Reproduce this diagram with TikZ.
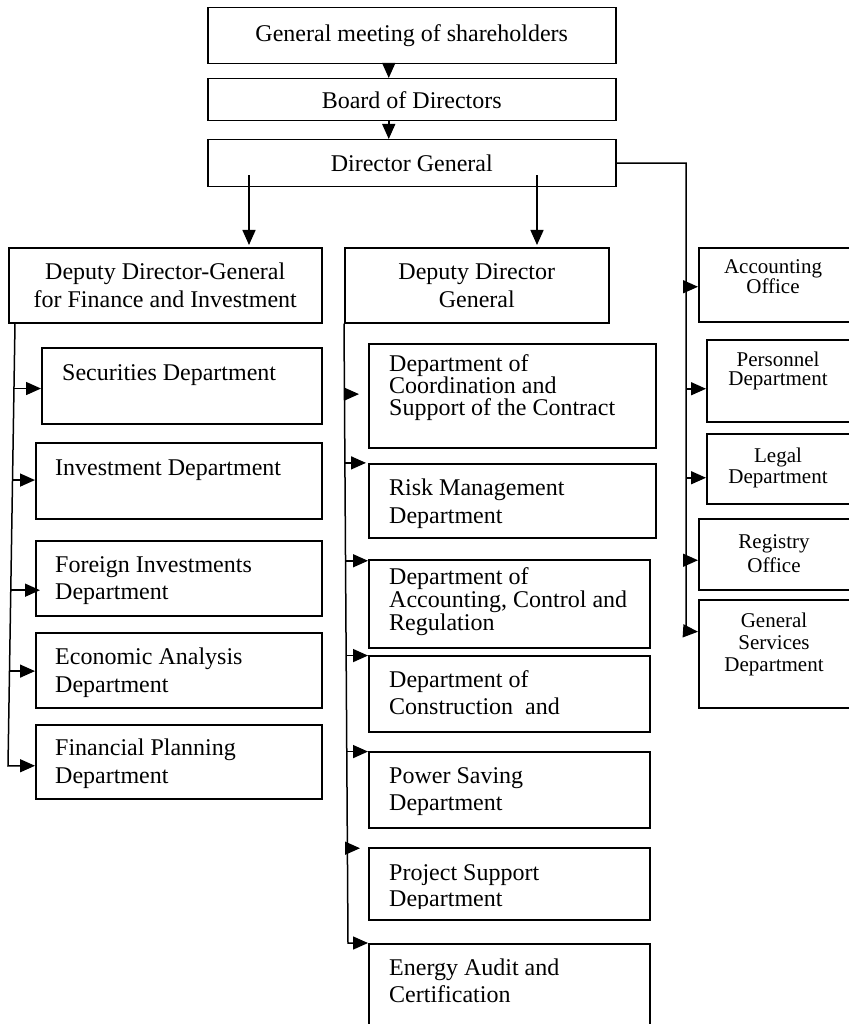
\documentclass[tikz,border=0pt]{standalone}
\usepackage{fontspec}
\setmainfont{Liberation Serif}
\usetikzlibrary{arrows.meta,calc}
\tikzset{
 box/.style={draw, line width=1.5pt, inner sep=0pt, anchor=north west},
 ctext/.style={font=\fontsize{24}{28}\selectfont, align=center},
 ltext/.style={font=\fontsize{24}{#1}\selectfont, align=left, inner sep=0pt, anchor=base west},
 ltext/.default=28,
 rtext/.style={font=\fontsize{21}{#1}\selectfont, align=center, inner sep=0pt, anchor=base},
 rtext/.default=21,
 arr/.style={line width=1.5pt, -{Triangle[length=15pt,width=13pt]}},
 ln/.style={line width=1.5pt},
}
\begin{document}
\begin{tikzpicture}[x=1pt,y=-1pt]
\useasboundingbox (0,0) rectangle (848,1024);

% top chain
\node[box, ctext, minimum width=408, minimum height=56] (gm) at (207,7) {General meeting of shareholders};
\node[box, ctext, minimum width=408, minimum height=42] (bd) at (207,78) {Board of Directors};
\node[box, ctext, minimum width=408, minimum height=47] (dg) at (207,139) {Director General};
\draw[arr] ([xshift=-23pt]gm.south) -- ([xshift=-23pt]bd.north);
\draw[arr] ([xshift=-23pt]bd.south) -- ([xshift=-23pt]dg.north);

% deputies
\node[box, ctext, minimum width=313, minimum height=75] (dfin) at (8,247) {Deputy Director-General\\for Finance and Investment};
\node[box, ctext, minimum width=264, minimum height=75] (dd) at (344,247) {Deputy Director\\General};
\coordinate (a1) at ($(dg.south west)+(42,-12)$);
\coordinate (a2) at ($(dg.south west)+(330,-12)$);
\draw[arr, shorten >=2pt] (a1) -- (a1 |- dfin.north);
\draw[arr, shorten >=2pt] (a2) -- (a2 |- dd.north);

% left column
\node[box, minimum width=280, minimum height=76] (sec) at (41,347) {};
\node[box, minimum width=286, minimum height=76] (inv) at (35,442) {};
\node[box, minimum width=286, minimum height=75] (fi) at (35,540) {};
\node[box, minimum width=286, minimum height=75] (ea) at (35,632) {};
\node[box, minimum width=286, minimum height=74] (fp) at (35,724) {};
\node[ltext] at (62,380) {Securities Department};
\node[ltext] at (55,475) {Investment Department};
\node[ltext=27] at (55,599) {Foreign Investments\\Department};
\node[ltext] at (55,692) {Economic Analysis\\Department};
\node[ltext] at (55,783) {Financial Planning\\Department};

\coordinate (lsT) at ($(dfin.south west)+(7,0)$);
\coordinate (lsB) at ($(fp.west)+(-27,4)$);
\draw[arr] (lsT) -- (lsB) -- ($(fp.west)+(0,4)$);
\coordinate (l1) at ($(lsT)!0.147!(lsB)$);
\coordinate (l2) at ($(lsT)!0.354!(lsB)$);
\coordinate (l3) at ($(lsT)!0.603!(lsB)$);
\coordinate (l4) at ($(lsT)!0.786!(lsB)$);
\draw[arr] (l1) -- (l1 -| sec.west);
\draw[arr] (l2) -- (l2 -| inv.west);
\draw[arr] (l3) -- ([xshift=5pt]l3 -| fi.west);
\draw[arr] (l4) -- (l4 -| ea.west);

% middle column
\node[box, minimum width=287, minimum height=104] (co) at (368,343) {};
\node[box, minimum width=287, minimum height=74] (rm) at (368,463) {};
\node[box, minimum width=281, minimum height=88] (ac) at (368,559) {};
\node[box, minimum width=281, minimum height=76] (cn) at (368,655) {};
\node[box, minimum width=281, minimum height=76] (pw) at (368,751) {};
\node[box, minimum width=281, minimum height=72] (pj) at (368,847) {};
\node[box, minimum width=281, minimum height=100] (en) at (368,943) {};
\node[ltext=22] at (389,415) {Department of\\Coordination and\\Support of the Contract};
\node[ltext] at (389,523) {Risk Management\\Department};
\node[ltext=21.5] at (389,630) {Department of\\Accounting, Control and\\Regulation};
\node[ltext=27] at (389,714) {Department of\\Construction\ \ and};
\node[ltext=27] at (389,810) {Power Saving\\Department};
\begin{scope}
\clip (368,840) rectangle (649,908);
\node[ltext=26] at (389,906) {Project Support\\Department};
\end{scope}
\node[ltext=27] at (389,1002) {Energy Audit and\\Certification};

\coordinate (msB) at ($(en.north west)+(-20,0)$);
\draw[arr] (dd.south west) -- (msB) -- (en.north west);
\coordinate (m1) at ($(dd.south west)!0.114!(msB)$);
\coordinate (m2) at ($(dd.south west)!0.225!(msB)$);
\coordinate (m3) at ($(dd.south west)!0.383!(msB)$);
\coordinate (m4) at ($(dd.south west)!0.536!(msB)$);
\coordinate (m5) at ($(dd.south west)!0.691!(msB)$);
\coordinate (m6) at ($(dd.south west)!0.847!(msB)$);
\draw[arr, shorten >=9pt] (m1) -- (m1 -| co.west);
\draw[arr, shorten >=2pt] (m2) -- (m2 -| rm.west);
\draw[arr] (m3) -- (m3 -| ac.west);
\draw[arr] (m4) -- (m4 -| cn.west);
\draw[arr] (m5) -- (m5 -| pw.west);
\draw[arr, shorten >=8pt] (m6) -- (m6 -| pj.west);

% right column
\node[box, minimum width=170, minimum height=74] (ao) at (698,247) {};
\node[box, minimum width=170, minimum height=82] (pd) at (706,339) {};
\node[box, minimum width=170, minimum height=70] (lg) at (706,433) {};
\node[box, minimum width=170, minimum height=71] (ro) at (698,518) {};
\node[box, minimum width=170, minimum height=108] (gs) at (698,599) {};
\node[rtext=20] at (773,293) {Accounting\\Office};
\node[rtext=19] at (778,385) {Personnel\\Department};
\node[rtext=21] at (778,483) {Legal\\Department};
\node[rtext=24] at (774,572) {Registry\\Office};
\node[rtext=22] at (774,671) {General\\Services\\Department};

\coordinate (rs) at (686,631);
\draw[arr] (dg.east) -| (rs) -- ($(gs.west)+(0,-22)$);
\coordinate (r1) at ($(ao.west)+(0,2)$);
\coordinate (r2) at ($(pd.west)+(0,8)$);
\coordinate (r3) at ($(lg.west)+(0,9)$);
\coordinate (r4) at ($(ro.west)+(0,6)$);
\draw[arr] (r1 -| rs) -- (r1);
\draw[arr] (r2 -| rs) -- (r2);
\draw[arr] (r3 -| rs) -- (r3);
\draw[arr] (r4 -| rs) -- (r4);
\end{tikzpicture}
\end{document}
